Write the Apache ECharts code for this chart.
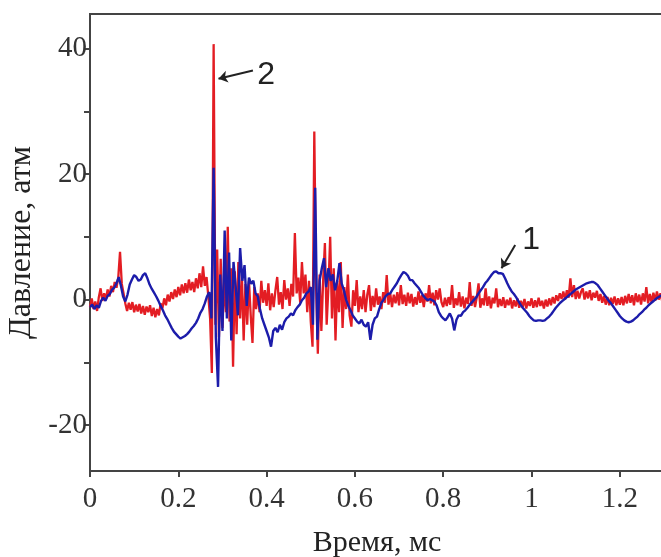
<!DOCTYPE html>
<html>
<head>
<meta charset="utf-8">
<script src="https://cdn.jsdelivr.net/npm/echarts@6/dist/echarts.min.js"></script>
<style>
html,body{margin:0;padding:0;background:#fff;overflow:hidden;}
#chart{width:661px;height:557px;}
</style>
</head>
<body>
<div id="chart"></div>
<script>
// ---- Data (pressure, atm) ----
const xAxisTitle = 'Время, мс';
const yAxisTitle = 'Давление, атм';
const xTickValues = [0, 0.2, 0.4, 0.6, 0.8, 1, 1.2];
const yLabelValues = [-20, 0, 20, 40];
const yTickValues = [-20, -10, 0, 10, 20, 30, 40];

// curve 2 (red), sampled every 0.004 ms from 0 ms
const redStartMs = 0;
const redStepMs = 0.004;
const redValues = [
 -1.2, 0.2, -1.5, -0.3, -1.8, 0.4, 1.8, -0.2, 1.0, 0.1,
 1.6, 0.5, 2.2, 1.2, 2.8, 1.9, 3.5, 7.6, 2.5, 1.0,
 -0.6, -1.8, -0.5, -1.6, -0.4, -2.0, -0.8, -1.9, -0.7, -2.2,
 -1.0, -2.4, -1.1, -2.0, -0.9, -2.6, -1.3, -2.8, -1.5, -2.5,
 -0.6, -1.4, 0.2, -0.9, 0.8, -0.3, 1.2, 0.1, 1.6, 0.4,
 2.0, 0.7, 2.4, 1.0, 2.6, 1.1, 3.2, 1.5, 2.8, 1.2,
 3.4, 1.8, 4.2, 2.0, 5.3, 2.2, 3.6, 0.5, -3.0, -11.7,
 40.7, -4.0, 8.0, -6.0, 6.5, -4.5, 3.0, -2.0, 11.6, -3.5,
 5.0, -10.7, 4.5, -5.5, 6.0, -3.0, 4.0, -6.5, 2.5, -4.0,
 3.0, -2.5, -6.9, 2.0, -1.5, 1.0, -2.0, 3.0, -0.5, 1.5,
 -1.0, 2.6, -1.7, 1.0, -1.2, 1.5, 3.6, -0.8, 1.2, -1.5,
 3.1, 0.0, 1.8, -1.0, 2.5, 0.5, 10.6, 1.0, 3.5, -0.5,
 6.0, 1.0, 4.0, -2.0, 3.0, -3.5, -7.5, 26.8, 2.0, -8.6,
 4.0, -5.0, 3.0, 9.0, -4.0, 2.0, 10.0, -3.0, 5.0, -6.5,
 3.0, -2.0, 6.0, -4.5, 2.0, -1.5, 4.0, -2.5, -4.3, 1.5,
 -1.0, 3.1, -2.0, 0.5, -1.5, 1.5, -2.0, 0.8, 2.3, -1.8,
 0.6, -1.2, 1.8, -0.8, 0.5, -1.5, 1.2, -0.5, 3.9, -0.8,
 1.0, -1.2, 0.8, -0.6, 1.2, -0.9, 2.3, -0.7, 0.8, -1.0,
 1.1, -0.6, 0.9, -1.1, 0.4, -0.8, 1.3, -0.5, 0.7, -1.2,
 1.0, -0.3, 2.3, -0.6, 1.1, -0.9, 1.5, 0.0, 1.8, -0.4,
 -1.2, 0.3, -1.0, 0.4, -0.8, 2.3, -1.3, 0.2, -0.9, 1.2,
 -1.1, 0.5, -1.4, 0.3, -0.7, 2.8, -1.0, 0.6, -1.2, 0.4,
 2.6, -1.3, 0.2, -0.9, 1.8, -1.0, 0.5, -1.4, 0.3, -0.6,
 1.8, -1.2, 0.1, -1.0, 0.4, -1.3, 0.0, -0.9, 0.3, -1.4,
 -0.1, -1.1, 0.2, -1.3, -0.2, -1.2, 0.1, -1.4, -0.3, -1.0,
 0.2, -1.3, -0.1, -1.2, 0.3, -1.0, -0.2, -1.4, 0.0, -1.1,
 0.2, -0.9, 0.4, -0.6, 0.7, -0.2, 1.0, 0.1, 1.3, 0.0,
 1.5, 0.3, 3.4, 0.4, 2.3, 0.1, 1.4, 0.2, 1.2, 1.8,
 0.0, 1.3, 0.2, 1.5, -0.1, 1.1, 0.3, 1.4, -0.2, 0.9,
 -0.5, 0.6, -0.8, 0.4, -0.9, 0.3, -0.7, 0.5, -0.9, 0.2,
 -0.8, 0.4, -0.9, 0.6, -0.6, 0.9, -0.5, 0.7, -0.9, 1.0,
 -0.4, 0.8, -0.8, 1.0, -0.3, 2.0, -0.6, 0.9, -0.5, 1.1,
 -0.2, 1.3, 0.0, 1.0, -0.3, 0.8
];

// curve 1 (blue), sampled every 0.005 ms from 0 ms
const blueStartMs = 0;
const blueStepMs = 0.005;
const blueValues = [
 -1.2, -0.8, -1.5, -0.9, -1.3, -0.2, 0.3, -0.2, 0.6, 0.9,
 1.6, 1.9, 2.6, 3.6, 2.2, 0.5, -0.3, 0.8, 2.4, 3.2,
 3.9, 3.6, 3.0, 3.2, 3.9, 4.2, 3.4, 2.4, 1.7, 1.1,
 0.5, -0.2, -1.0, -1.7, -2.5, -3.1, -3.8, -4.5, -5.1, -5.5,
 -5.9, -6.2, -6.0, -5.8, -5.5, -5.1, -4.6, -4.2, -3.7, -3.0,
 -2.1, -1.5, -0.6, 0.5, 1.2, -3.0, 21.0, -6.0, -13.9, 4.0,
 -5.0, 11.0, -3.0, 7.5, -6.5, 6.0, 2.0, -2.5, 8.2, 3.0,
 5.5, -1.0, 3.5, 2.5, 3.0, 1.0, 0.5, -1.5, -3.0, -4.0,
 -5.0, -6.0, -7.5, -5.0, -4.5, -5.2, -4.0, -4.8, -3.6, -3.0,
 -2.7, -2.2, -2.5, -1.7, -1.2, -0.8, -0.1, 0.3, 1.0, 1.3,
 2.0, -4.0, 17.8, -6.4, 3.0, 5.0, 6.6, 2.0, 5.0, 3.0,
 4.0, 1.5, 3.0, 5.8, 2.6, 1.5, 0.0, -1.0, -1.7, -2.5,
 -3.0, -3.5, -3.8, -3.2, -4.0, -4.3, -3.6, -6.4, -4.0, -3.0,
 -2.7, -1.5, -0.5, 0.0, 0.6, 0.9, 1.0, 1.6, 2.1, 2.6,
 3.3, 3.9, 4.4, 4.2, 3.8, 3.1, 3.1, 2.6, 2.2, 1.8,
 1.2, 0.6, 0.2, -0.1, 0.1, -0.1, -0.3, -0.9, -2.0, -2.6,
 -3.0, -3.3, -2.8, -2.2, -3.0, -4.9, -3.2, -2.5, -2.6, -2.0,
 -1.7, -1.3, -0.8, -0.4, 0.0, 0.4, 1.0, 1.5, 2.0, 2.6,
 3.0, 3.5, 4.0, 4.4, 4.5, 4.2, 4.2, 4.1, 3.4, 2.6,
 1.9, 1.3, 0.9, 0.4, -0.2, -0.8, -1.3, -1.7, -2.1, -2.6,
 -3.0, -3.3, -3.4, -3.3, -3.3, -3.4, -3.3, -3.0, -2.7, -2.3,
 -1.8, -1.3, -0.9, -0.5, -0.2, 0.1, 0.4, 0.7, 1.0, 1.3,
 1.6, 1.8, 2.0, 2.2, 2.4, 2.6, 2.7, 2.8, 2.8, 2.6,
 2.3, 1.8, 1.3, 0.8, 0.3, -0.2, -0.6, -1.1, -1.6, -2.1,
 -2.6, -3.0, -3.3, -3.5, -3.6, -3.5, -3.3, -3.0, -2.7, -2.3,
 -2.0, -1.6, -1.3, -0.9, -0.6, -0.3, 0.0, 0.3, 0.5, 0.7,
 0.9
];

// curve labels and their pointer arrows (data coordinates: ms, atm)
const curveLabels = ['1', '2'];
const labelAt = [[0.999, 9.4], [0.399, 35.8]];
const arrowFrom = [[0.963, 8.7], [0.369, 36.5]];
const arrowTo = [[0.932, 5.0], [0.291, 35.2]];

const redData = redValues.map((v, i) => [redStartMs + i * redStepMs, v]);
const blueData = blueValues.map((v, i) => [blueStartMs + i * blueStepMs, v]);

const chart = echarts.init(document.getElementById('chart'), null, {renderer: 'canvas'});
const serif = '"Liberation Serif", "Times New Roman", serif';
const sans = '"Liberation Sans", Arial, sans-serif';

chart.setOption({
  animation: false,
  backgroundColor: '#fff',
  grid: {
    left: 90, top: 14, right: -3, bottom: 86,
    containLabel: false, outerBoundsMode: 'none',
    show: true, borderColor: '#444', borderWidth: 2, backgroundColor: 'transparent'
  },
  xAxis: {
    type: 'value', min: 0, max: 1.3,
    name: xAxisTitle, nameLocation: 'middle', nameGap: 57,
    nameTextStyle: {fontFamily: serif, fontSize: 30, color: '#222'},
    axisLine: {show: true, onZero: false, lineStyle: {color: '#444', width: 2}},
    axisTick: {show: true, inside: false, length: 6, customValues: xTickValues, lineStyle: {color: '#444', width: 2}},
    axisLabel: {customValues: xTickValues, fontFamily: serif, fontSize: 29, color: '#333', margin: 14},
    splitLine: {show: false}
  },
  yAxis: {
    type: 'value', min: -27.3, max: 45.5,
    name: yAxisTitle, nameLocation: 'middle', nameGap: 45, nameRotate: 90,
    nameTextStyle: {fontFamily: serif, fontSize: 32, color: '#222'},
    axisLine: {show: true, onZero: false, lineStyle: {color: '#444', width: 2}},
    axisTick: {show: true, inside: false, length: 6, customValues: yTickValues, lineStyle: {color: '#444', width: 2}},
    axisLabel: {customValues: yLabelValues, fontFamily: serif, fontSize: 29, color: '#333', margin: 3},
    splitLine: {show: false}
  },
  series: [
    {
      name: '2', type: 'line', data: redData, showSymbol: false, sampling: null,
      lineStyle: {color: '#e31d23', width: 2.3}, itemStyle: {color: '#e31d23'}, z: 2
    },
    {
      name: '1', type: 'line', data: blueData, showSymbol: false,
      lineStyle: {color: '#1c1caa', width: 2.4}, itemStyle: {color: '#1c1caa'}, z: 3,
      markLine: {
        silent: true, symbol: ['none', 'arrow'], symbolSize: 9,
        label: {show: false},
        lineStyle: {color: '#222', width: 2, type: 'solid'},
        data: arrowFrom.map((p, k) => [{coord: p}, {coord: arrowTo[k]}])
      },
      markPoint: {
        silent: true,
        data: labelAt.map((p, k) => ({
          coord: p, symbol: 'circle', symbolSize: 1, itemStyle: {color: 'transparent'},
          label: {show: true, position: 'inside', formatter: curveLabels[k],
                  fontFamily: sans, fontSize: 32, color: '#222'}
        }))
      }
    }
  ]
});
</script>
</body>
</html>
